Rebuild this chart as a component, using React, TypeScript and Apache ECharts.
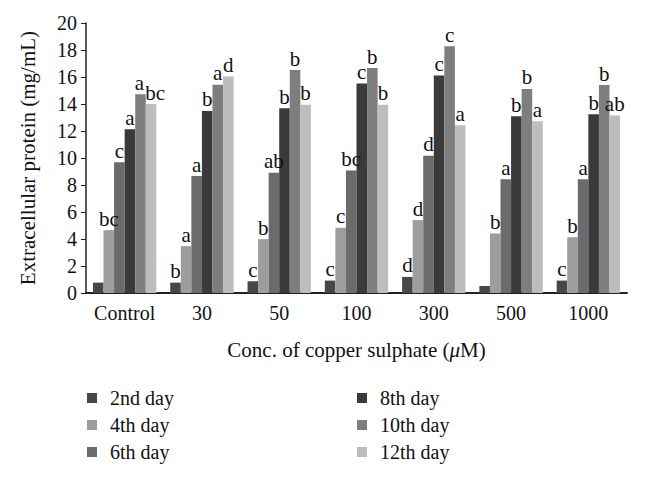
import React, { useEffect, useRef } from "react";
import * as echarts from "echarts";

const categories = ["Control", "30", "50", "100", "300", "500", "1000"];
const seriesNames = ["2nd day", "4th day", "6th day", "8th day", "10th day", "12th day"];
const day2 = [0.77, 0.77, 0.87, 0.92, 1.19, 0.52, 0.92];
const day4 = [4.65, 3.47, 3.99, 4.83, 5.4, 4.41, 4.13];
const day6 = [9.68, 8.66, 8.91, 9.08, 10.17, 8.42, 8.42];
const day8 = [12.13, 13.49, 13.69, 15.52, 16.11, 13.09, 13.24];
const day10 = [14.73, 15.42, 16.51, 16.66, 18.27, 15.12, 15.4];
const day12 = [14.0, 16.04, 13.94, 13.94, 12.43, 12.72, 13.14];
const letters2 = ["", "b", "c", "c", "d", "", "c"];
const letters4 = ["bc", "a", "b", "c", "d", "b", "b"];
const letters6 = ["c", "a", "ab", "bc", "d", "a", "a"];
const letters8 = ["a", "b", "b", "c", "c", "b", "b"];
const letters10 = ["a", "a", "b", "b", "c", "b", "b"];
const letters12 = ["bc", "d", "b", "b", "a", "a", "ab"];
const yTicks = [0, 2, 4, 6, 8, 10, 12, 14, 16, 18, 20];

const values = [day2, day4, day6, day8, day10, day12];
const letters = [letters2, letters4, letters6, letters8, letters10, letters12];
const colors = ["#474747", "#9d9d9d", "#6b6b6b", "#3a3a3a", "#7e7e7e", "#bdbdbd"];
const FONT = "Liberation Serif";

export default function App() {
  const ref = useRef<HTMLDivElement>(null);
  useEffect(() => {
    if (!ref.current) return;
    const chart = echarts.init(ref.current, undefined, { renderer: "svg" });
    const series = seriesNames.map((name, i) => ({
      name,
      type: "bar",
      data: values[i].map((v, j) => ({
        value: v,
        label: i === 5 && j === 0 ? { offset: [4, 0] } : i === 4 && j === 0 ? { offset: [-1, 0] } : undefined,
      })),
      barGap: "0%",
      barCategoryGap: "18%",
      itemStyle: { color: colors[i] },
      label: {
        show: true,
        position: "top",
        distance: 1,
        fontFamily: FONT,
        fontSize: 21,
        color: "#111",
        formatter: (p: any) => letters[i][p.dataIndex],
      },
    }));
    const legendText = { fontFamily: FONT, fontSize: 20, color: "#111", padding: [0, 0, 0, 8] };
    chart.setOption({
      animation: false,
      backgroundColor: "#fff",
      textStyle: { fontFamily: FONT },
      grid: { left: 86, right: 20, top: 23, bottom: 185, containLabel: false },
      legend: [
        {
          data: seriesNames.slice(0, 3),
          orient: "vertical",
          left: 87,
          top: 388,
          padding: 0,
          itemWidth: 10,
          itemHeight: 10,
          itemGap: 7,
          icon: "rect",
          textStyle: legendText,
        },
        {
          data: seriesNames.slice(3, 6),
          orient: "vertical",
          left: 357,
          top: 388,
          padding: 0,
          itemWidth: 10,
          itemHeight: 10,
          itemGap: 7,
          icon: "rect",
          textStyle: legendText,
        },
      ],
      xAxis: {
        type: "category",
        data: categories,
        name: "Conc. of copper sulphate ({i|μ}M)",
        nameLocation: "middle",
        nameGap: 46,
        nameTextStyle: {
          fontFamily: FONT,
          fontSize: 21,
          color: "#111",
          rich: { i: { fontFamily: FONT, fontSize: 21, fontStyle: "italic", color: "#111" } },
        },
        axisLine: { lineStyle: { color: "#222", width: 2 } },
        axisTick: { show: false },
        axisLabel: { fontFamily: FONT, fontSize: 20, color: "#111", margin: 10, interval: 0 },
      },
      yAxis: {
        type: "value",
        min: yTicks[0],
        max: yTicks[yTicks.length - 1],
        interval: 2,
        name: "Extracellular protein (mg/mL)",
        nameLocation: "middle",
        nameGap: 48,
        nameTextStyle: { fontFamily: FONT, fontSize: 21, color: "#111" },
        axisLine: { show: true, lineStyle: { color: "#222", width: 1.5 } },
        axisTick: { show: true, length: 5, lineStyle: { color: "#222" } },
        splitLine: { show: false },
        axisLabel: { fontFamily: FONT, fontSize: 20, color: "#111", margin: 9 },
      },
      series,
    });
    return () => chart.dispose();
  }, []);
  return <div ref={ref} style={{ width: 647, height: 478, position: "absolute", left: 0, top: 0 }} />;
}
